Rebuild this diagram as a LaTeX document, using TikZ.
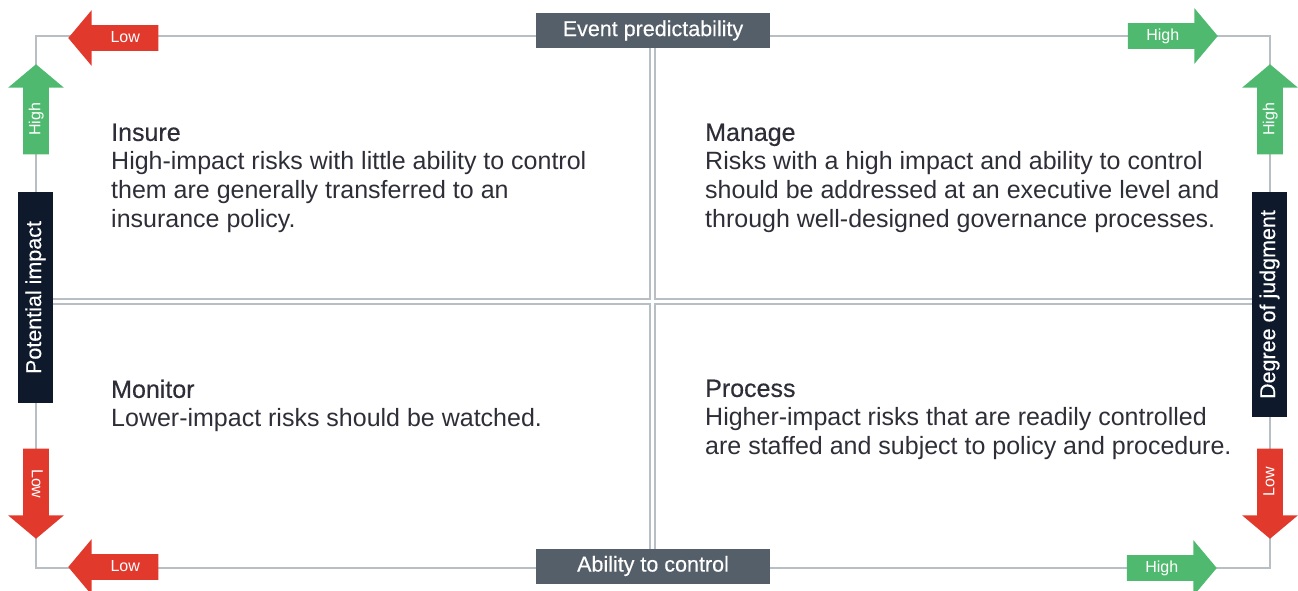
\documentclass[tikz,border=0pt]{standalone}
\usepackage{fontspec}
\setmainfont{Liberation Sans}
\newfontface\titlefont{Liberation Sans}[FakeBold=0.4]
\newfontface\axisfont{Liberation Sans}[FakeBold=0.25]
\usetikzlibrary{shapes.arrows, positioning}
\definecolor{framegray}{HTML}{B7BEC4}
\definecolor{lowred}{HTML}{E2392D}
\definecolor{highgreen}{HTML}{4FBA6F}
\definecolor{axisgray}{HTML}{555F6A}
\definecolor{axisnavy}{HTML}{0E1A2B}
\definecolor{textgray}{HTML}{2E2E38}

\tikzset{
  flag/.style={single arrow, single arrow head extend=15pt, single arrow tip angle=100,
    minimum height=90pt, inner xsep=0pt, inner ysep=5.5pt, text height=11.5pt, text depth=3pt,
    text=white, font=\fontsize{16}{16}\selectfont, anchor=tip},
  lowflag/.style={flag, fill=lowred},
  highflag/.style={flag, fill=highgreen},
  % push the text back into the shaft
  padstart/.style={execute at begin node=\hspace*{13pt}},
  padend/.style={execute at end node=\hspace*{9pt}},
  axislabel/.style={fill=axisgray, text=white, minimum width=234pt, minimum height=35pt,
    inner sep=0pt, font=\fontsize{21.5}{21.5}\axisfont},
  sidelabel/.style={fill=axisnavy, text=white, rotate=90, minimum height=35pt,
    inner sep=0pt, font=\fontsize{21.5}{21.5}\axisfont},
  quad/.style={draw=framegray, line width=1.6pt},
  quadtext/.style={anchor=north west, inner sep=0pt, align=left, text=textgray,
    font=\fontsize{25}{29}\selectfont},
}

\begin{document}
\begin{tikzpicture}[x=1pt, y=-1pt]
    \useasboundingbox (0,0) rectangle (1298,590);

    % Quadrants
    \draw[quad] (36,36) rectangle (650,299);
    \draw[quad] (655,36) rectangle (1270,299);
    \draw[quad] (36,304) rectangle (650,568);
    \draw[quad] (655,304) rectangle (1270,568);

    % Axis labels
    \node[axislabel] (predict) at (653,30.5) {Event predictability};
    \node[axislabel] (control) at (653,566) {Ability to control};
    \node[sidelabel, minimum width=211pt] (impact) at (35.5,297.5) {Potential impact};
    \node[sidelabel, minimum width=225pt] (judgment) at (1269.5,304.5) {Degree of judgment};

    % Low / High arrows
    \node[lowflag, padstart, shape border rotate=180] (predictlow) at (68,38) {Low};
    \node[highflag, padend] (predicthigh) at (1218,36) {High};
    \node[lowflag, padstart, shape border rotate=180] (controllow) at (68,567) {Low};
    \node[highflag, padend] (controlhigh) at (1217,568) {High};
    \node[highflag, padend, rotate=90] (impacthigh) at (36,64) {High};
    \node[lowflag, padend, rotate=-90] (impactlow) at (36,539) {Low};
    \node[highflag, padend, rotate=90] (judgmenthigh) at (1270,64) {High};
    \node[lowflag, padstart, rotate=90, shape border rotate=180] (judgmentlow) at (1270,539) {Low};

    % Quadrant texts
    \node[quadtext] (insure) at (111,123.5) {{\titlefont Insure}\\
      High-impact risks with little ability to control\\
      them are generally transferred to an\\
      insurance policy.};
    \node[quadtext] (manage) at (705,123.5) {{\titlefont Manage}\\
      Risks with a high impact and ability to control\\
      should be addressed at an executive level and\\
      through well-designed governance processes.};
    \node[quadtext] (monitor) at (111,379.5) {{\titlefont Monitor}\\
      Lower-impact risks should be watched.};
    \node[quadtext] (process) at (705,379.5) {{\titlefont Process}\\
      Higher-impact risks that are readily controlled\\
      are staffed and subject to policy and procedure.};
\end{tikzpicture}
\end{document}
